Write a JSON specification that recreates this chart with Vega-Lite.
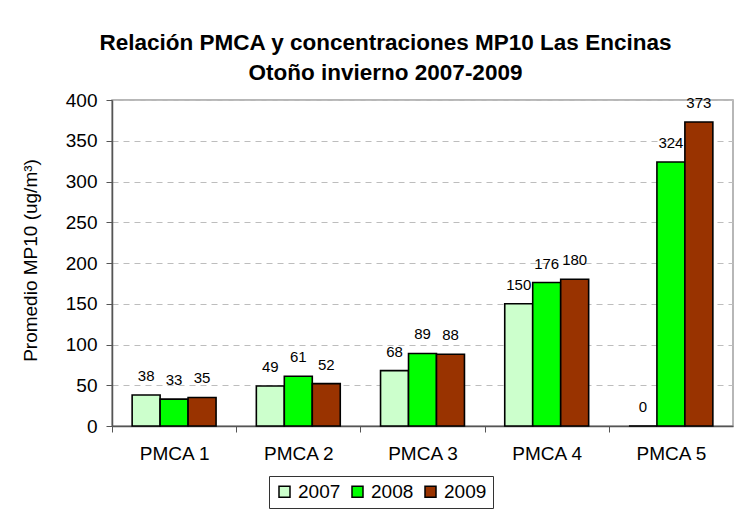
{
  "$schema": "https://vega.github.io/schema/vega-lite/v6.json",
  "width": 621,
  "height": 326,
  "autosize": {"type": "none"},
  "padding": {"left": 112, "top": 100, "right": 16, "bottom": 87},
  "background": "white",
  "title": {
    "text": ["Relación PMCA y concentraciones MP10 Las Encinas", "Otoño invierno 2007-2009"],
    "font": "Liberation Sans",
    "fontSize": 22.5,
    "fontWeight": "bold",
    "color": "#000000",
    "lineHeight": 30,
    "anchor": "middle",
    "frame": "group",
    "dx": -37,
    "offset": 7
  },
  "data": {
    "values": [
      {"pmca": "PMCA 1", "year": "2007", "value": 38},
      {"pmca": "PMCA 1", "year": "2008", "value": 33},
      {"pmca": "PMCA 1", "year": "2009", "value": 35},
      {"pmca": "PMCA 2", "year": "2007", "value": 49},
      {"pmca": "PMCA 2", "year": "2008", "value": 61},
      {"pmca": "PMCA 2", "year": "2009", "value": 52},
      {"pmca": "PMCA 3", "year": "2007", "value": 68},
      {"pmca": "PMCA 3", "year": "2008", "value": 89},
      {"pmca": "PMCA 3", "year": "2009", "value": 88},
      {"pmca": "PMCA 4", "year": "2007", "value": 150},
      {"pmca": "PMCA 4", "year": "2008", "value": 176},
      {"pmca": "PMCA 4", "year": "2009", "value": 180},
      {"pmca": "PMCA 5", "year": "2007", "value": 0},
      {"pmca": "PMCA 5", "year": "2008", "value": 324},
      {"pmca": "PMCA 5", "year": "2009", "value": 373}
    ]
  },
  "encoding": {
    "x": {
      "field": "pmca",
      "type": "nominal",
      "sort": ["PMCA 1", "PMCA 2", "PMCA 3", "PMCA 4", "PMCA 5"],
      "scale": {"paddingInner": 0, "paddingOuter": 0},
      "axis": {
        "title": null,
        "labelAngle": 0,
        "labelFont": "Liberation Sans",
        "labelFontSize": 19,
        "labelColor": "#000000",
        "tickOffset": -62.1,
        "labelOffset": 62.1,
        "tickSize": 6,
        "tickColor": "#555555",
        "domainColor": "#555555",
        "domainWidth": 1.5,
        "labelPadding": 12,
        "grid": false
      }
    },
    "xOffset": {
      "field": "year",
      "type": "nominal",
      "scale": {"paddingOuter": 0.72, "paddingInner": 0}
    },
    "y": {
      "field": "value",
      "type": "quantitative",
      "scale": {"domain": [0, 400], "nice": false},
      "axis": {
        "title": "Promedio MP10 (ug/m³)",
        "titleFont": "Liberation Sans",
        "titleFontSize": 19,
        "titleFontWeight": "normal",
        "titleColor": "#000000",
        "titleAngle": 270,
        "titleAlign": "center",
        "titleBaseline": "middle",
        "titleX": -82,
        "titleY": 160,
        "values": [0, 50, 100, 150, 200, 250, 300, 350, 400],
        "labelFont": "Liberation Sans",
        "labelFontSize": 19,
        "labelColor": "#000000",
        "tickSize": 6,
        "tickColor": "#555555",
        "domainColor": "#555555",
        "domainWidth": 1.5,
        "labelPadding": 9,
        "grid": true,
        "gridColor": "#bdbdbd",
        "gridDash": [6, 5],
        "gridWidth": 1
      }
    }
  },
  "layer": [
    {
      "mark": {"type": "bar", "stroke": "#000000", "strokeWidth": 1.6},
      "encoding": {
        "color": {
          "field": "year",
          "type": "nominal",
          "scale": {"domain": ["2007", "2008", "2009"], "range": ["#CCFFCC", "#00FF00", "#993300"]},
          "legend": {
            "title": null,
            "orient": "none",
            "legendX": 157,
            "legendY": 376,
            "direction": "horizontal",
            "columns": 3,
            "symbolType": "square",
            "symbolSize": 121,
            "symbolStrokeColor": "#000000",
            "symbolStrokeWidth": 1.5,
            "labelFont": "Liberation Sans",
            "labelFontSize": 19,
            "labelColor": "#000000",
            "labelOffset": 4,
            "columnPadding": 7,
            "padding": 6,
            "strokeColor": "#333333",
            "fillColor": "#ffffff"
          }
        }
      }
    },
    {
      "mark": {"type": "text", "baseline": "alphabetic", "dy": -14, "font": "Liberation Sans", "fontSize": 15, "color": "#000000"},
      "encoding": {
        "text": {"field": "value", "type": "quantitative"}
      }
    }
  ],
  "config": {
    "view": {"stroke": "#a0a0a0", "strokeWidth": 1.5}
  }
}
